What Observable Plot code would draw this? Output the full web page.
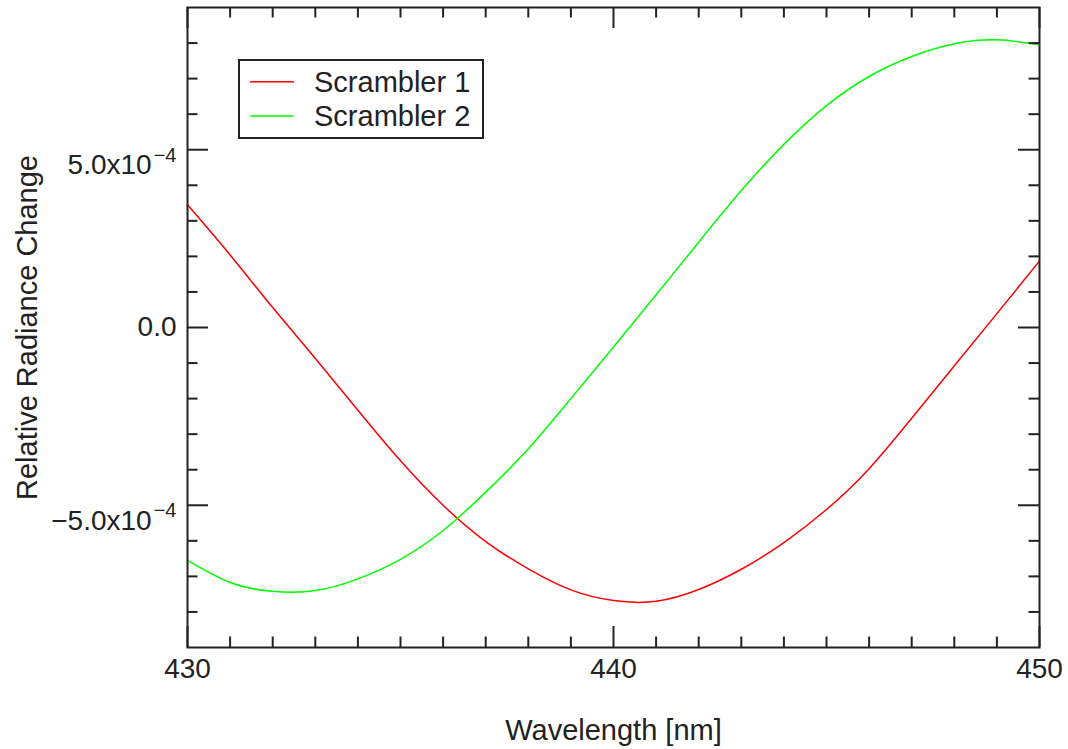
<!DOCTYPE html>
<html>
<head>
<meta charset="utf-8">
<script src="https://cdn.jsdelivr.net/npm/d3@7"></script>
<script src="https://cdn.jsdelivr.net/npm/@observablehq/plot@0.6"></script>
<style>
  html, body { margin: 0; padding: 0; background: #fff; }
  #chart svg { display: block; }
</style>
</head>
<body>
<div id="chart"></div>
<script>
// ---- data (in units of 1e-4) ----
const wavelength = [430, 431, 432, 433, 434, 435, 436, 437, 438, 439, 440, 441, 442, 443, 444, 445, 446, 447, 448, 449, 450];
const scrambler1 = [3.45, 2.04, 0.56, -0.87, -2.33, -3.75, -5.00, -6.02, -6.79, -7.38, -7.68, -7.70, -7.37, -6.80, -6.05, -5.12, -3.97, -2.55, -1.08, 0.39, 1.87];
const scrambler2 = [-6.55, -7.17, -7.42, -7.40, -7.07, -6.52, -5.71, -4.63, -3.41, -2.00, -0.55, 0.92, 2.40, 3.85, 5.15, 6.24, 7.06, 7.62, 7.98, 8.09, 7.95];
const valueUnit = 1e-4;
const seriesNames = ["Scrambler 1", "Scrambler 2"];
const seriesColors = ["#ff0000", "#00ff00"];

const xMajorTicks = [430, 440, 450];
const xTickLabels = ["430", "440", "450"];
const xMinorTicks = [431, 432, 433, 434, 435, 436, 437, 438, 439, 441, 442, 443, 444, 445, 446, 447, 448, 449];
const yMajorTicks = [-5e-4, 0, 5e-4];
const yTickLabels = ["\u22125.0x10^\u22124", "0.0", "5.0x10^\u22124"];
const yMinorTicks = [-8e-4, -7e-4, -6e-4, -4e-4, -3e-4, -2e-4, -1e-4, 1e-4, 2e-4, 3e-4, 4e-4, 6e-4, 7e-4, 8e-4];
const xLabel = "Wavelength [nm]";
const yLabel = "Relative Radiance Change";

// ---- layout ----
const W = 1068, H = 749;
const mL = 187, mR = 29, mT = 7, mB = 102;
const pw = W - mL - mR, ph = H - mT - mB;
const ink = "#222";
const font = "'Liberation Sans', Arial, Helvetica, sans-serif";
const minorLen = 10.5, majorLen = 21;

const table = [];
wavelength.forEach((w, i) => {
  table.push({w, v: scrambler1[i] * valueUnit, s: seriesNames[0]});
  table.push({w, v: scrambler2[i] * valueUnit, s: seriesNames[1]});
});

const tickStyle = {stroke: ink, strokeWidth: 2};

const chart = Plot.plot({
  width: W, height: H,
  marginLeft: mL, marginRight: mR, marginTop: mT, marginBottom: mB,
  style: {fontFamily: font, fontSize: "28px", color: ink, background: "#fff"},
  x: {domain: [430, 450]},
  y: {domain: [-9e-4, 9e-4]},
  color: {domain: seriesNames, range: seriesColors},
  marks: [
    Plot.line(table, {x: "w", y: "v", stroke: "s", strokeWidth: 1.5, curve: "natural"}),
    // x ticks bottom / top (inward)
    Plot.ruleX(xMinorTicks, {x: d => d, insetTop: ph - minorLen, ...tickStyle}),
    Plot.ruleX(xMinorTicks, {x: d => d, insetBottom: ph - minorLen, ...tickStyle}),
    Plot.ruleX(xMajorTicks, {x: d => d, insetTop: ph - majorLen, ...tickStyle}),
    Plot.ruleX(xMajorTicks, {x: d => d, insetBottom: ph - majorLen, ...tickStyle}),
    // y ticks left / right (inward)
    Plot.ruleY(yMinorTicks, {y: d => d, insetRight: pw - minorLen, ...tickStyle}),
    Plot.ruleY(yMinorTicks, {y: d => d, insetLeft: pw - minorLen, ...tickStyle}),
    Plot.ruleY(yMajorTicks, {y: d => d, insetRight: pw - majorLen, ...tickStyle}),
    Plot.ruleY(yMajorTicks, {y: d => d, insetLeft: pw - majorLen, ...tickStyle}),
    Plot.frame({stroke: ink, strokeWidth: 2}),
    Plot.axisX({ticks: xMajorTicks, tickSize: 0, tickPadding: 11, fontSize: 28, fill: ink,
      tickFormat: d => xTickLabels[xMajorTicks.indexOf(d)], label: null}),
    Plot.axisY({ticks: yMajorTicks, tickSize: 0, tickPadding: 11, fontSize: 28, fill: ink,
      tickFormat: d => yTickLabels[yMajorTicks.indexOf(d)], label: null}),
    Plot.text([yLabel], {frameAnchor: "left", dx: -160, rotate: -90, textAnchor: "middle", lineAnchor: "middle", fontSize: 29, fill: ink}),
    Plot.text([xLabel], {frameAnchor: "bottom", dy: 92, textAnchor: "middle", lineAnchor: "bottom", fontSize: 29, fill: ink})
  ]
});

document.getElementById("chart").appendChild(chart);

// superscript exponents on y tick labels
const svg = d3.select(chart);
svg.selectAll('g[aria-label="y-axis tick label"] text').each(function() {
  const t = this.textContent;
  if (t.includes("^")) {
    const [base, exp] = t.split("^");
    const el = d3.select(this);
    el.text(base).attr("dy", "0.55em");
    el.append("tspan").attr("dx", 2).attr("dy", -12.5).attr("font-size", 20).text(exp);
  }
});

// legend box inside the frame
const lg = svg.append("g").attr("font-family", font).attr("text-anchor", "start");
lg.append("rect").attr("x", 239).attr("y", 60).attr("width", 244).attr("height", 78)
  .attr("fill", "#fff").attr("stroke", ink).attr("stroke-width", 2);
seriesNames.forEach((name, i) => {
  const yy = 81.7 + 34.3 * i;
  lg.append("line").attr("x1", 250).attr("x2", 294).attr("y1", yy).attr("y2", yy)
    .attr("stroke", seriesColors[i]).attr("stroke-width", 1.5);
  lg.append("text").attr("x", 314).attr("y", yy + 10).attr("font-size", 29)
    .attr("fill", ink).attr("text-anchor", "start").text(name);
});
</script>
</body>
</html>
